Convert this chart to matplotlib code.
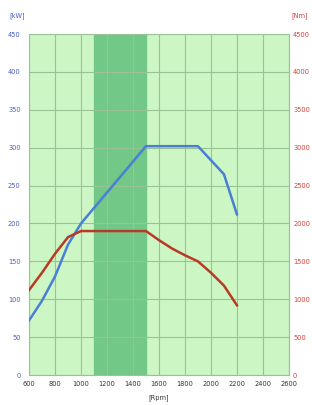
import matplotlib.pyplot as plt

rpm_power = [600, 700, 800, 900, 1000, 1500, 1900, 2100, 2200]
power_kw = [72, 98, 130, 172, 200, 302, 302, 265, 212]

rpm_torque = [600, 700, 800, 900, 1000, 1500, 1600, 1700, 1800, 1900, 2000, 2100, 2200]
torque_nm = [1120, 1350, 1600, 1820, 1900, 1900, 1780, 1670, 1580, 1500, 1350, 1180, 920]

band = (1100, 1500)
rpm_ticks = list(range(600, 2601, 200))
kw_ticks = list(range(0, 451, 50))
nm_ticks = list(range(0, 4501, 500))

fig = plt.figure(figsize=(3.12, 4.05), dpi=100)
ax = fig.add_axes([0.093, 0.074, 0.833, 0.842])
ax.set_facecolor('#ccf7c4')
ax.axvspan(band[0], band[1], color='#72c887', zorder=0)
ax.grid(True, color='#99c295', linewidth=0.8, zorder=1)
ax.set_axisbelow(True)

ax.plot(rpm_power, power_kw, color='#4a7fd6', linewidth=1.8, zorder=3)
ax.set_xlim(600, 2600)
ax.set_ylim(0, 450)
ax.set_xticks(rpm_ticks)
ax.set_yticks(kw_ticks)
ax.tick_params(axis='x', labelsize=4.8, colors='#333333', length=0, pad=4)
ax.tick_params(axis='y', labelsize=4.8, colors='#4a5cc4', length=0, pad=6)
for s in ax.spines.values():
    s.set_color('#99c295')

ax2 = ax.twinx()
ax2.plot(rpm_torque, torque_nm, color='#b83a24', linewidth=1.8, zorder=3)
ax2.set_ylim(0, 4500)
ax2.set_yticks(nm_ticks)
ax2.tick_params(axis='y', labelsize=4.8, colors='#d0403a', length=0, pad=3)
for s in ax2.spines.values():
    s.set_visible(False)

fig.text(0.03, 0.962, '[kW]', fontsize=4.8, color='#4a5cc4', va='center')
fig.text(0.935, 0.962, '[Nm]', fontsize=4.8, color='#d0403a', va='center')
fig.text(0.51, 0.01, '[Rpm]', fontsize=4.8, color='#333333', ha='center', va='bottom')

fig.savefig('out.png', dpi=100)
